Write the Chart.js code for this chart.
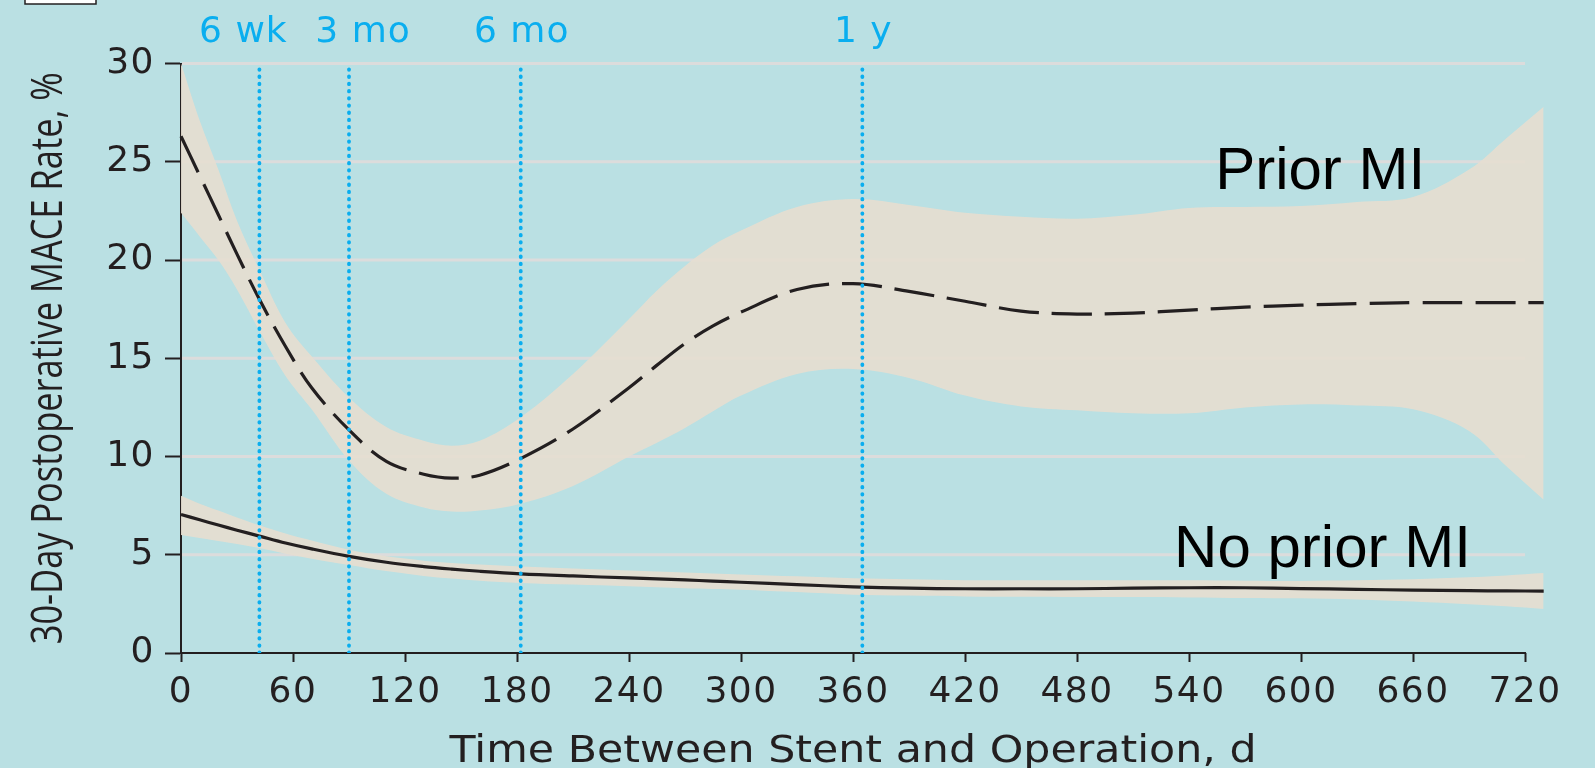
<!DOCTYPE html>
<html>
<head>
<meta charset="utf-8">
<script src="https://cdn.jsdelivr.net/npm/chart.js@4.4.1/dist/chart.umd.min.js"></script>
<style>
  html, body { margin: 0; padding: 0; background: #bae0e3; }
</style>
</head>
<body>
<canvas id="myChart" width="1595" height="768"></canvas>
<script>
// days after stent (x axis)
const days = [0, 10, 20, 30, 42, 56, 70, 90, 110, 130, 145, 160, 182, 210, 240, 255, 270, 285, 300, 330, 360, 390, 420, 450, 480, 510, 540, 570, 600, 630, 660, 690, 710, 730];

// Prior MI: estimate + 95% band
const priorMI    = [26.3, 24.3, 22.3, 20.3, 18.0, 15.6, 13.5, 11.35, 9.75, 9.1, 8.9, 9.05, 9.9, 11.4, 13.5, 14.65, 15.75, 16.65, 17.35, 18.5, 18.8, 18.4, 17.9, 17.4, 17.25, 17.3, 17.45, 17.6, 17.7, 17.78, 17.83, 17.83, 17.83, 17.83];
const priorUpper = [30.0, 27.1, 24.6, 22.0, 19.5, 16.8, 15.1, 13.0, 11.5, 10.8, 10.55, 10.8, 12.0, 14.2, 17.0, 18.45, 19.7, 20.75, 21.5, 22.7, 23.1, 22.8, 22.4, 22.2, 22.1, 22.3, 22.65, 22.7, 22.75, 22.95, 23.2, 24.6, 26.2, 27.8];
const priorLower = [22.4, 21.2, 20.0, 18.5, 16.4, 14.1, 12.4, 9.8, 8.1, 7.4, 7.2, 7.25, 7.6, 8.5, 10.0, 10.7, 11.45, 12.3, 13.1, 14.2, 14.45, 14.0, 13.1, 12.55, 12.35, 12.2, 12.2, 12.5, 12.65, 12.6, 12.4, 11.3, 9.5, 7.8];

// No prior MI: estimate + 95% band
const noPriorMI    = [7.05, 6.78, 6.51, 6.25, 5.95, 5.6, 5.3, 4.92, 4.62, 4.4, 4.27, 4.16, 4.03, 3.92, 3.82, 3.77, 3.72, 3.66, 3.6, 3.48, 3.37, 3.3, 3.27, 3.27, 3.27, 3.3, 3.32, 3.32, 3.28, 3.24, 3.2, 3.17, 3.16, 3.15];
const noPriorUpper = [8.0, 7.6, 7.25, 6.9, 6.5, 6.08, 5.72, 5.25, 4.92, 4.7, 4.58, 4.5, 4.4, 4.3, 4.2, 4.15, 4.1, 4.05, 4.0, 3.9, 3.8, 3.75, 3.7, 3.7, 3.7, 3.7, 3.7, 3.68, 3.67, 3.7, 3.75, 3.85, 3.95, 4.07];
const noPriorLower = [6.0, 5.85, 5.7, 5.55, 5.34, 5.05, 4.8, 4.48, 4.17, 3.92, 3.79, 3.68, 3.56, 3.48, 3.4, 3.35, 3.3, 3.26, 3.22, 3.1, 2.97, 2.92, 2.88, 2.86, 2.85, 2.85, 2.83, 2.8, 2.78, 2.72, 2.62, 2.48, 2.38, 2.24];

// dotted time markers
const markerDays   = [42, 90, 182, 365];
const markerLabels = ['6 wk', '3 mo', '6 mo', '1 y'];

const xTickMax = 720;
const yTickStep = 5;

const bgColor = '#bae0e3';
const inkColor = '#231f20';
const bandColor = 'rgba(229, 222, 209, 0.93)';
const gridColor = '#dcdcdc';
const markerColor = '#0aaeef';

const markerShift = [-16, 14, 1, 1];
const curveLabels = [
  { text: 'Prior MI', day: 554, value: 23.6 },
  { text: 'No prior MI', day: 532, value: 4.38 }
];

function pts(arr) {
  return days.map((d, i) => ({ x: d, y: arr[i] }));
}

const markerData = [];
markerDays.forEach(d => {
  markerData.push({ x: d, y: 0 }, { x: d, y: 30 }, { x: d, y: null });
});

const decor = {
  id: 'decor',
  beforeDraw(chart) {
    const ctx = chart.ctx;
    ctx.save();
    ctx.fillStyle = bgColor;
    ctx.fillRect(0, 0, chart.width, chart.height);
    ctx.fillStyle = '#fff';
    ctx.fillRect(25, -3, 71, 7);
    ctx.strokeStyle = inkColor;
    ctx.lineWidth = 1.5;
    ctx.strokeRect(25, -3, 71, 7);
    ctx.restore();
    ctx.letterSpacing = '1.5px';
  },
  beforeDatasetsDraw(chart) {
    const ctx = chart.ctx;
    const xs = chart.scales.x, ys = chart.scales.y;
    ctx.letterSpacing = '0px';
    ctx.save();
    const x0 = xs.getPixelForValue(0), x1 = xs.getPixelForValue(xTickMax);
    ctx.strokeStyle = gridColor;
    ctx.lineWidth = 3;
    ys.ticks.forEach(t => {
      if (t.value <= 0) return;
      const py = ys.getPixelForValue(t.value);
      ctx.beginPath();
      ctx.moveTo(x0 + 1, py);
      ctx.lineTo(x1, py);
      ctx.stroke();
    });
    ctx.strokeStyle = inkColor;
    ctx.lineWidth = 2;
    const py0 = ys.getPixelForValue(0);
    ctx.beginPath();
    ctx.moveTo(x0 - 1, py0);
    ctx.lineTo(x1 + 1, py0);
    ctx.stroke();
    ctx.restore();
  },
  afterDraw(chart) {
    const ctx = chart.ctx;
    const xs = chart.scales.x, ys = chart.scales.y;
    const area = chart.chartArea;
    ctx.save();

    // marker labels
    ctx.fillStyle = markerColor;
    ctx.font = '36px "DejaVu Sans"';
    ctx.letterSpacing = '1px';
    ctx.textAlign = 'center';
    ctx.textBaseline = 'alphabetic';
    markerDays.forEach((d, i) => {
      ctx.fillText(markerLabels[i], xs.getPixelForValue(d) + markerShift[i], 41.5);
    });
    ctx.letterSpacing = '0px';

    // curve labels
    ctx.fillStyle = '#000';
    ctx.font = '60px "Liberation Sans"';
    ctx.textAlign = 'left';
    curveLabels.forEach(l => {
      ctx.fillText(l.text, xs.getPixelForValue(l.day), ys.getPixelForValue(l.value));
    });

    // x title
    ctx.fillStyle = inkColor;
    ctx.font = '37px "DejaVu Sans"';
    ctx.textAlign = 'center';
    const xt = 'Time Between Stent and Operation, d';
    let w = ctx.measureText(xt).width;
    const cx = (xs.getPixelForValue(0) + xs.getPixelForValue(xTickMax)) / 2;
    ctx.save();
    ctx.translate(cx, 762);
    ctx.scale(807 / w, 1);
    ctx.fillText(xt, 0, 0);
    ctx.restore();

    // y title (condensed)
    ctx.font = '43px "Open Sans"';
    const yt = '30-Day Postoperative MACE Rate, %';
    w = ctx.measureText(yt).width;
    ctx.save();
    ctx.translate(62, (area.top + area.bottom) / 2);
    ctx.rotate(-Math.PI / 2);
    ctx.scale(572 / w, 1);
    ctx.fillText(yt, 0, 0);
    ctx.restore();

    ctx.restore();
  }
};

const ctx = document.getElementById('myChart');
const myChart = new Chart(ctx, {
  type: 'line',
  data: {
    datasets: [
      { label: 'Prior MI upper', data: pts(priorUpper), fill: '+1', backgroundColor: bandColor,
        borderColor: 'transparent', borderWidth: 0, pointRadius: 0, order: 3, clip: false },
      { label: 'Prior MI lower', data: pts(priorLower), fill: false,
        borderColor: 'transparent', borderWidth: 0, pointRadius: 0, order: 3, clip: false },
      { label: 'No prior MI upper', data: pts(noPriorUpper), fill: '+1', backgroundColor: bandColor,
        borderColor: 'transparent', borderWidth: 0, pointRadius: 0, order: 3, clip: false },
      { label: 'No prior MI lower', data: pts(noPriorLower), fill: false,
        borderColor: 'transparent', borderWidth: 0, pointRadius: 0, order: 3, clip: false },
      { label: 'Prior MI', data: pts(priorMI), borderColor: inkColor, borderWidth: 3.2,
        borderDash: [40, 13], pointRadius: 0, fill: false, order: 2, clip: false },
      { label: 'No prior MI', data: pts(noPriorMI), borderColor: inkColor, borderWidth: 3.2,
        pointRadius: 0, fill: false, order: 2, clip: false },
      { label: 'markers', data: markerData, borderColor: markerColor, borderWidth: 3.8,
        borderDash: [0.5, 6.7], borderCapStyle: 'round', pointRadius: 0, fill: false,
        tension: 0, spanGaps: false, order: 1 }
    ]
  },
  options: {
    responsive: false,
    animation: false,
    devicePixelRatio: 1,
    elements: { line: { tension: 0.35 } },
    layout: { padding: { left: 0, top: 63.5, right: 51.3, bottom: 0 } },
    plugins: { legend: { display: false }, tooltip: { enabled: false } },
    scales: {
      x: {
        type: 'linear',
        min: 0,
        max: 730,
        afterFit: s => { s.height = 115; },
        border: { display: false },
        grid: { display: true, drawOnChartArea: false, drawTicks: true, tickLength: 9,
                tickColor: inkColor, tickWidth: 2 },
        ticks: { stepSize: 60, includeBounds: false, autoSkip: false, maxRotation: 0,
                 color: inkColor, padding: 9, font: { family: 'DejaVu Sans', size: 36 } }
      },
      y: {
        min: 0,
        max: 30,
        afterFit: s => { s.width = 181; },
        border: { display: true, color: inkColor, width: 2 },
        grid: { display: true, drawOnChartArea: false, drawTicks: true, tickLength: 16,
                tickColor: inkColor, tickWidth: 2 },
        ticks: { stepSize: yTickStep, color: inkColor, padding: 10,
                 font: { family: 'DejaVu Sans', size: 36 } }
      }
    }
  },
  plugins: [decor]
});
</script>
</body>
</html>
